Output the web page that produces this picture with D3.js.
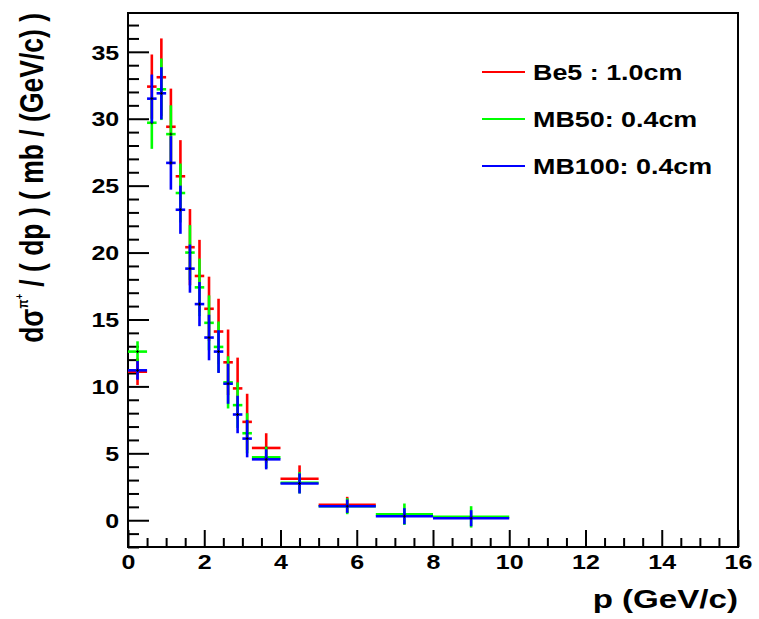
<!DOCTYPE html>
<html>
<head>
<meta charset="utf-8">
<script src="https://cdn.jsdelivr.net/npm/d3@7"></script>
<style>
  html, body { margin: 0; padding: 0; background: #fff; }
  svg { display: block; }
  text { font-family: "Liberation Sans", Arial, Helvetica, sans-serif; font-weight: bold; fill: #000; }
</style>
</head>
<body>
<svg id="chart" width="759" height="619"></svg>
<script>
// Momentum bins (GeV/c): lower and upper edges
const binLo = [0.0, 0.5, 0.75, 1.0, 1.25, 1.5, 1.75, 2.0, 2.25, 2.5, 2.75, 3.0, 3.25, 4.0, 5.0, 6.5, 8.0];
const binHi = [0.5, 0.75, 1.0, 1.25, 1.5, 1.75, 2.0, 2.25, 2.5, 2.75, 3.0, 3.25, 4.0, 5.0, 6.5, 8.0, 10.0];

// d sigma / dp (mb / (GeV/c)) and errors for each target
const be5Val  = [11.1, 32.4, 33.1, 29.4, 25.7, 20.4, 18.25, 15.8, 14.1, 11.8, 9.85, 7.35, 5.4, 3.1, 1.15];
const be5Err  = [1.0, 2.4, 2.9, 2.85, 2.7, 2.85, 2.7, 2.4, 2.45, 2.45, 2.3, 2.1, 1.1, 1.0, 0.6];
const mb50Val = [12.6, 29.7, 32.2, 28.85, 24.45, 20.0, 17.4, 14.75, 12.95, 10.3, 8.6, 6.5, 4.7, 2.8, 1.05, 0.45, 0.25];
const mb50Err = [0.77, 1.95, 2.3, 2.15, 2.2, 2.05, 2.15, 2.05, 1.9, 1.95, 1.7, 1.5, 0.8, 0.8, 0.6, 0.8, 0.8];
const mb100Val = [11.2, 31.5, 31.9, 26.7, 23.2, 18.8, 16.15, 13.65, 12.6, 10.2, 7.9, 6.1, 4.55, 2.75, 1.05, 0.3, 0.15];
const mb100Err = [0.7, 1.8, 1.95, 2.0, 1.8, 1.8, 1.65, 1.7, 1.6, 1.5, 1.4, 1.4, 0.75, 0.75, 0.5, 0.6, 0.6];

const seriesNames = ["Be5 : 1.0cm", "MB50: 0.4cm", "MB100: 0.4cm"];
const seriesColors = ["#ff0000", "#00ff00", "#0000ff"];

const xTickValues = [0, 2, 4, 6, 8, 10, 12, 14, 16];
const yTickValues = [0, 5, 10, 15, 20, 25, 30, 35];
const xTitle = "p (GeV/c)";

const series = [
  { name: seriesNames[0], color: seriesColors[0], val: be5Val, err: be5Err },
  { name: seriesNames[1], color: seriesColors[1], val: mb50Val, err: mb50Err },
  { name: seriesNames[2], color: seriesColors[2], val: mb100Val, err: mb100Err }
];

const svg = d3.select("#chart");
const frame = { left: 128, right: 738, top: 13, bottom: 547 };
const SX = 1.25; // horizontal glyph stretch of the labels

const x = d3.scaleLinear().domain([0, 16]).range([frame.left, frame.right]);
const y = d3.scaleLinear().domain([-2, 37.9]).range([frame.bottom, frame.top]);

// ---- axes: major ticks labelled, minor ticks unlabelled, all pointing inward
const xMinor = d3.range(0, 16.001, 0.5).filter(v => v % 2 !== 0);
const yMinor = d3.range(-2, 37.001, 1).filter(v => v % 5 !== 0);

svg.append("g")
  .attr("transform", `translate(0,${frame.bottom})`)
  .call(d3.axisBottom(x).tickValues(xMinor).tickSize(-9).tickSizeOuter(0).tickFormat(""))
  .call(g => g.select(".domain").remove())
  .call(g => g.selectAll("line").attr("stroke", "#000").attr("stroke-width", 2));

const gx = svg.append("g")
  .attr("transform", `translate(0,${frame.bottom})`)
  .call(d3.axisBottom(x).tickValues(xTickValues).tickSize(-17).tickSizeOuter(0).tickPadding(5).tickFormat(d3.format("d")))
  .call(g => g.select(".domain").remove());
gx.selectAll("line").attr("stroke", "#000").attr("stroke-width", 2);
gx.selectAll("text")
  .attr("font-size", 20)
  .attr("fill", "#000")
  .attr("transform", `scale(${SX},1)`)
  .attr("y", 8)
  .attr("dy", "0.71em");

svg.append("g")
  .attr("transform", `translate(${frame.left},0)`)
  .call(d3.axisLeft(y).tickValues(yMinor).tickSize(-11).tickSizeOuter(0).tickFormat(""))
  .call(g => g.select(".domain").remove())
  .call(g => g.selectAll("line").attr("stroke", "#000").attr("stroke-width", 2));

const gy = svg.append("g")
  .attr("transform", `translate(${frame.left},0)`)
  .call(d3.axisLeft(y).tickValues(yTickValues).tickSize(-21).tickSizeOuter(0).tickPadding(6).tickFormat(d3.format("d")))
  .call(g => g.select(".domain").remove());
gy.selectAll("line").attr("stroke", "#000").attr("stroke-width", 2);
gy.selectAll("text")
  .attr("font-size", 20)
  .attr("fill", "#000")
  .attr("x", -7)
  .attr("transform", `scale(${SX},1)`)
  .attr("dy", "0.36em");

// ---- frame
svg.append("rect")
  .attr("x", x(0)).attr("y", y(37.9))
  .attr("width", x(16) - x(0)).attr("height", y(-2) - y(37.9))
  .attr("fill", "none").attr("stroke", "#000").attr("stroke-width", 2);

// ---- error-bar crosses per bin
series.forEach(s => {
  const pts = s.val.map((v, i) => ({ lo: binLo[i], hi: binHi[i], mid: (binLo[i] + binHi[i]) / 2, v, e: s.err[i] }));
  const g = svg.append("g").attr("stroke", s.color).attr("stroke-width", 2.6).attr("fill", "none");
  g.selectAll("line.h").data(pts).join("line").attr("class", "h")
    .attr("x1", d => x(d.lo)).attr("x2", d => x(d.hi))
    .attr("y1", d => y(d.v)).attr("y2", d => y(d.v));
  g.selectAll("line.v").data(pts).join("line").attr("class", "v")
    .attr("x1", d => x(d.mid)).attr("x2", d => x(d.mid))
    .attr("y1", d => y(d.v - d.e)).attr("y2", d => y(d.v + d.e));
  // small dark marker at the centre
  const m = svg.append("g").attr("stroke", "#000").attr("stroke-width", 1);
  m.selectAll("line.mh").data(pts).join("line")
    .attr("x1", d => x(d.mid) - 1.5).attr("x2", d => x(d.mid) + 1.5)
    .attr("y1", d => y(d.v)).attr("y2", d => y(d.v));
  m.selectAll("line.mv").data(pts).join("line")
    .attr("x1", d => x(d.mid)).attr("x2", d => x(d.mid))
    .attr("y1", d => y(d.v) - 1.5).attr("y2", d => y(d.v) + 1.5);
});

// ---- legend
const legend = svg.append("g");
series.forEach((s, i) => {
  const ly = 72 + i * 47;
  legend.append("line")
    .attr("x1", 482).attr("x2", 525).attr("y1", ly).attr("y2", ly)
    .attr("stroke", s.color).attr("stroke-width", 2);
  legend.append("text")
    .attr("transform", `translate(533,${ly}) scale(${SX},1)`)
    .attr("dy", "0.36em")
    .attr("font-size", 21.5)
    .text(s.name);
});

// ---- axis titles
svg.append("text")
  .attr("transform", `translate(${frame.right},608) scale(${SX},1)`)
  .attr("text-anchor", "end")
  .attr("font-size", 26.5)
  .text(xTitle);

const yt = svg.append("text")
  .attr("transform", `translate(43,${frame.top}) scale(${SX},1) rotate(-90)`)
  .attr("text-anchor", "end")
  .attr("font-size", 26.5);
yt.append("tspan").text("dσ");
yt.append("tspan").attr("font-size", 12).attr("dy", -12).text("π");
yt.append("tspan").attr("font-size", 9).attr("dy", -4).text("+");
yt.append("tspan").attr("dy", 16).text(" / ( dp ) ( mb / (GeV/c) )");
</script>
</body>
</html>
